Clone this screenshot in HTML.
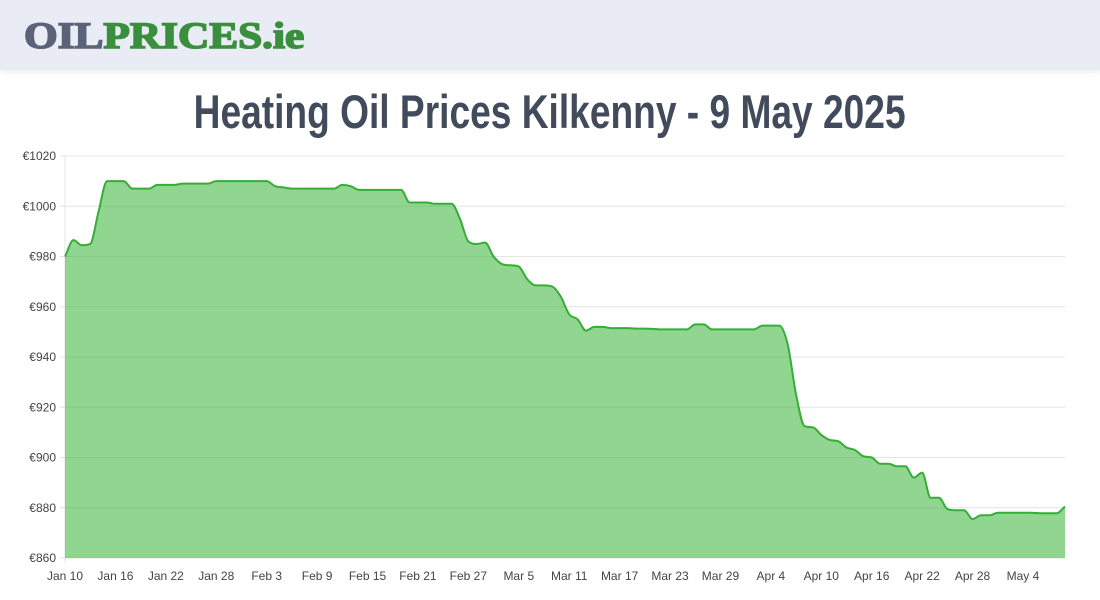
<!DOCTYPE html>
<html><head><meta charset="utf-8">
<style>
body{margin:0;width:1100px;height:600px;background:#fff;font-family:"Liberation Sans",sans-serif;overflow:hidden;position:relative}
#hdr{position:absolute;left:0;top:0;width:1100px;height:70px;background:#e9ecf4;box-shadow:0 2px 6px rgba(0,0,0,0.08)}
#logo{position:absolute;left:24px;top:15px;font-family:"Liberation Serif",serif;font-weight:bold;font-size:37px;letter-spacing:0px;transform:scaleX(1.17);transform-origin:left;-webkit-text-stroke:1.6px currentColor}
#title{position:absolute;left:0;top:84px;width:1100px;text-align:center;font-size:47px;color:#424b5c;font-weight:bold}
#title span{display:inline-block;transform:scaleX(0.79)}
</style></head><body>
<div id="hdr">
<div id="logo"><span style="color:#5a6378">OIL</span><span style="color:#3a8f3e">PRICES.ie</span></div>
</div>
<div id="title"><span>Heating Oil Prices Kilkenny - 9 May 2025</span></div>
<svg id="chart" width="1100" height="600" style="position:absolute;left:0;top:0"></svg>
<script>
const startDate = [2025, 0, 10];
const prices = [980,986.5,984.5,985,998,1010,1010,1010,1007,1007,1007,1008.5,1008.5,1008.5,1009,1009,1009,1009,1010,1010,1010,1010,1010,1010,1010,1008,1007.5,1007,1007,1007,1007,1007,1007,1008.5,1008,1006.5,1006.5,1006.5,1006.5,1006.5,1006.5,1001.5,1001.5,1001.5,1001,1001,1001,995,986,985,985.5,980,977,976.5,976,971,968.5,968.5,968,964,957,955,950.5,952,952,951.5,951.5,951.5,951.3,951.3,951.2,951,951,951,951,953,953,951,951,951,951,951,951,952.5,952.5,952.5,945,925,912.5,912,909,907,906.5,904,903,900.5,900,897.5,897.5,896.5,896.5,892,894,884,884,879.5,879,879,875.5,877,877,878,878,878,878,878,877.8,877.8,877.8,880.5];
const yTicks = [860,880,900,920,940,960,980,1000,1020];
const xTickLabels = ["Jan 10","Jan 16","Jan 22","Jan 28","Feb 3","Feb 9","Feb 15","Feb 21","Feb 27","Mar 5","Mar 11","Mar 17","Mar 23","Mar 29","Apr 4","Apr 10","Apr 16","Apr 22","Apr 28","May 4"];
const tickEvery = 6;

const NS="http://www.w3.org/2000/svg";
const svg=document.getElementById('chart');
const L=65,R=1065,T=156,B=558,yMin=860,yMax=1020;
const n=prices.length;
const xs=i=>L+i*(R-L)/(n-1);
const ys=v=>B-(v-yMin)/(yMax-yMin)*(B-T);
function mk(t,a){const e=document.createElementNS(NS,t);for(const k in a)e.setAttribute(k,a[k]);svg.appendChild(e);return e;}
yTicks.forEach(v=>{
  const g=mk('line',{x1:L-5,x2:R,y1:ys(v),y2:ys(v),stroke:'#e4e4e4','stroke-width':1});
  
  
  const t=mk('text',{x:L-9,y:ys(v)+4,'text-anchor':'end','font-size':'12','fill':'#444','font-family':'Liberation Sans, sans-serif'});
  t.textContent='€'+v;
  
  
});
const ax=mk('line',{x1:L,x2:L,y1:T,y2:B+5,stroke:'#e4e4e4'});


xTickLabels.forEach((s,k)=>{
  const x=xs(k*tickEvery);
  const t=mk('text',{x:x,y:B+22,'text-anchor':'middle','font-size':'12','fill':'#444','font-family':'Liberation Sans, sans-serif'});
  t.textContent=s;
  
  
});
const P=prices.map((v,i)=>[xs(i),ys(v)]);
const m=[];const d=[];
for(let i=0;i<n-1;i++)d.push((P[i+1][1]-P[i][1])/(P[i+1][0]-P[i][0]));
for(let i=0;i<n;i++){
  if(i==0)m.push(d[0]);else if(i==n-1)m.push(d[n-2]);
  else m.push(d[i-1]*d[i]<=0?0:(d[i-1]+d[i])/2);
}
for(let i=0;i<n-1;i++){if(d[i]==0){m[i]=0;m[i+1]=0;continue;}
  const a=m[i]/d[i],b=m[i+1]/d[i],s=a*a+b*b;if(s>9){const t=3/Math.sqrt(s);m[i]=t*a*d[i];m[i+1]=t*b*d[i];}}
let path='M'+P[0][0]+','+P[0][1];
for(let i=0;i<n-1;i++){const h=(P[i+1][0]-P[i][0])/3;
  path+=` C${P[i][0]+h},${P[i][1]+m[i]*h} ${P[i+1][0]-h},${P[i+1][1]-m[i+1]*h} ${P[i+1][0]},${P[i+1][1]}`;}
const area=mk('path',{d:path+` L${R},${B} L${L},${B} Z`,fill:'rgba(70,185,70,0.6)'});


const line=mk('path',{d:path,fill:'none',stroke:'#36ad36','stroke-width':2});


</script>
</body></html>
